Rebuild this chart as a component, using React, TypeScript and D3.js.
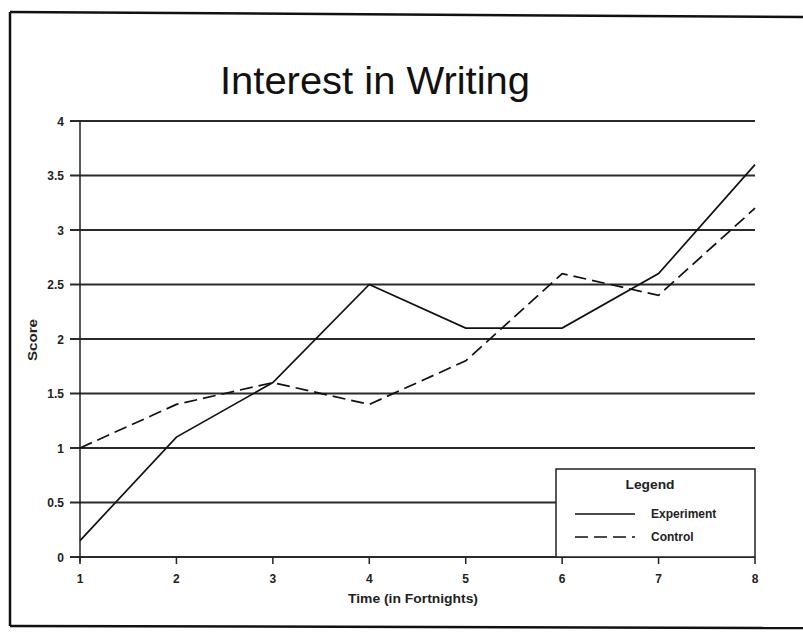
import React from "react";
import * as d3 from "d3";

const times = [1, 2, 3, 4, 5, 6, 7, 8];
const experiment = [0.15, 1.1, 1.6, 2.5, 2.1, 2.1, 2.6, 3.6];
const control = [1.0, 1.4, 1.6, 1.4, 1.8, 2.6, 2.4, 3.2];
const yTicks = [0, 0.5, 1, 1.5, 2, 2.5, 3, 3.5, 4];
const seriesNames = ["Experiment", "Control"];

const W = 803;
const H = 634;
const FONT = "'Liberation Sans', Arial, sans-serif";

export default function App() {
  const x = d3.scaleLinear().domain([1, 8]).range([80, 755]);
  const y = d3.scaleLinear().domain([0, 4]).range([557, 121]);
  const line = d3
    .line<number>()
    .x((_, i) => x(times[i]))
    .y((d) => y(d));

  return (
    <svg
      width={W}
      height={H}
      style={{ position: "absolute", left: 0, top: 0, background: "#fff" }}
      fontFamily={FONT}
    >
      {/* page border */}
      <line x1={10} y1={12} x2={803} y2={17} stroke="#111" strokeWidth={2.5} />
      <line x1={10} y1={12} x2={10} y2={626} stroke="#111" strokeWidth={2.5} />
      <line x1={10} y1={626} x2={803} y2={628} stroke="#111" strokeWidth={2.5} />

      {/* title */}
      <text
        x={375}
        y={94}
        textAnchor="middle"
        fontSize={39}
        fill="#111"
        textLength={310}
        lengthAdjust="spacingAndGlyphs"
      >
        Interest in Writing
      </text>

      {/* gridlines with y tick stubs */}
      {yTicks.map((t) => (
        <g key={t}>
          <line
            x1={70}
            x2={755}
            y1={y(t)}
            y2={y(t)}
            stroke="#2a2a2a"
            strokeWidth={2}
          />
          <text
            x={64}
            y={y(t) + 4.5}
            textAnchor="end"
            fontSize={12}
            fontWeight="bold"
            fill="#222"
          >
            {t}
          </text>
        </g>
      ))}

      {/* y axis line */}
      <line x1={80} x2={80} y1={121} y2={562} stroke="#222" strokeWidth={1.5} />

      {/* x ticks */}
      {times.map((t) => (
        <g key={t}>
          <line
            x1={x(t)}
            x2={x(t)}
            y1={557}
            y2={564}
            stroke="#222"
            strokeWidth={1.5}
          />
          <text
            x={x(t)}
            y={583}
            textAnchor="middle"
            fontSize={12}
            fontWeight="bold"
            fill="#222"
          >
            {t}
          </text>
        </g>
      ))}

      {/* axis titles */}
      <text
        x={413}
        y={603}
        textAnchor="middle"
        fontSize={12.5}
        fontWeight="bold"
        fill="#222"
        textLength={130}
        lengthAdjust="spacingAndGlyphs"
      >
        Time (in Fortnights)
      </text>
      <text
        transform={`translate(37, 340) rotate(-90)`}
        textAnchor="middle"
        fontSize={12}
        fontWeight="bold"
        fill="#222"
        textLength={42}
        lengthAdjust="spacingAndGlyphs"
      >
        Score
      </text>

      {/* series */}
      <path
        d={line(experiment) || ""}
        fill="none"
        stroke="#111"
        strokeWidth={1.7}
      />
      <path
        d={line(control) || ""}
        fill="none"
        stroke="#111"
        strokeWidth={1.7}
        strokeDasharray="13,6"
      />

      {/* legend */}
      <rect
        x={556}
        y={469}
        width={199}
        height={88}
        fill="#fff"
        stroke="#222"
        strokeWidth={1.5}
      />
      <text
        x={650}
        y={489}
        textAnchor="middle"
        fontSize={12}
        fontWeight="bold"
        fill="#222"
        textLength={49}
        lengthAdjust="spacingAndGlyphs"
      >
        Legend
      </text>
      {seriesNames.map((name, i) => (
        <g key={name}>
          <line
            x1={575}
            x2={635}
            y1={514 + i * 23}
            y2={514 + i * 23}
            stroke="#111"
            strokeWidth={1.7}
            strokeDasharray={i === 1 ? "13,6" : undefined}
          />
          <text
            x={651}
            y={518 + i * 23}
            fontSize={12}
            fontWeight="bold"
            fill="#222"
          >
            {name}
          </text>
        </g>
      ))}
    </svg>
  );
}
